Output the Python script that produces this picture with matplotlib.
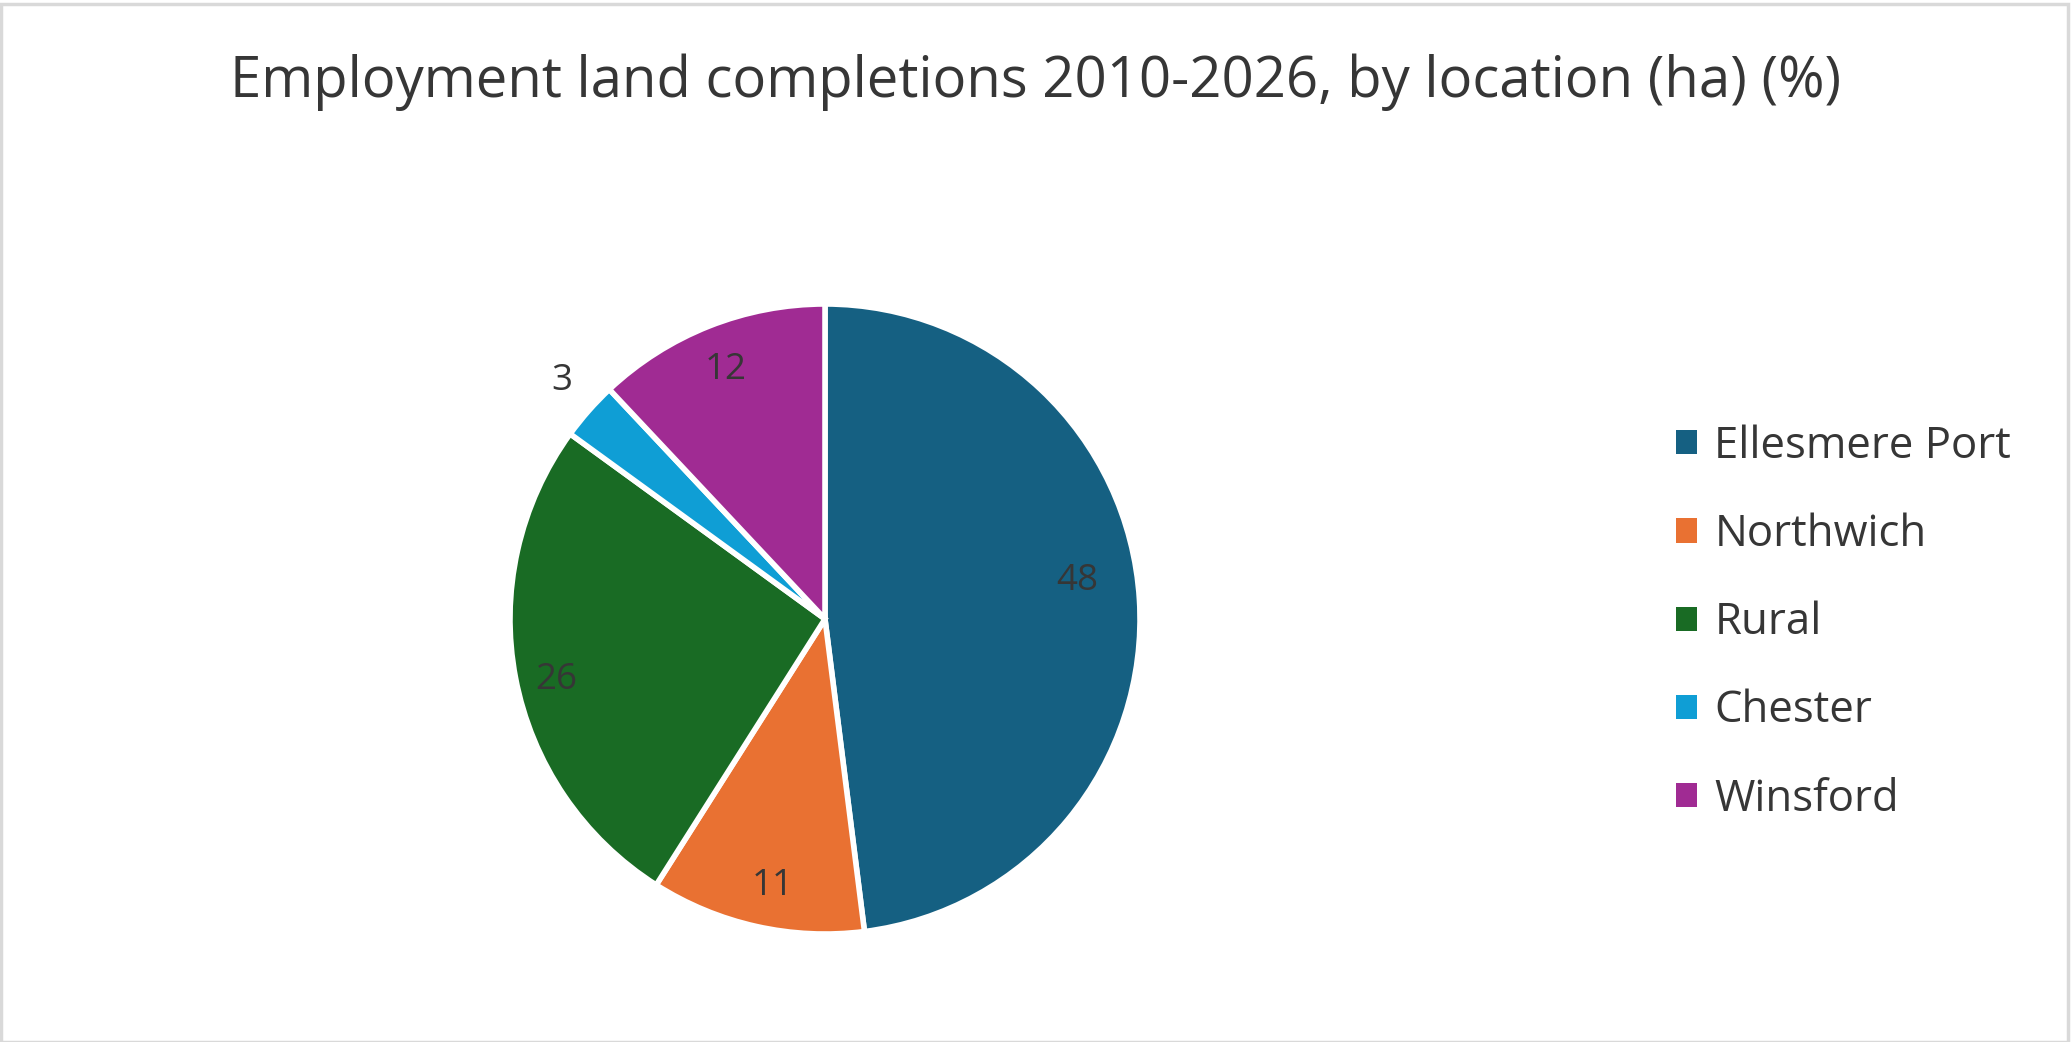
import numpy as np
import matplotlib
matplotlib.use("Agg")
import matplotlib.pyplot as plt
from matplotlib.patches import Patch, Rectangle

# ---- data ----
categories = ["Ellesmere Port", "Northwich", "Rural", "Chester", "Winsford"]
values = [48, 11, 26, 3, 12]
title = "Employment land completions 2010-2026, by location (ha) (%)"

# ---- styles ----
colors = ["#156082", "#E97132", "#196B24", "#0F9ED5", "#A02B93"]
label_radius = [0.81, 0.865, 0.875, 1.125, 0.85]
label_angle_shift = [5.0, 1.5, 2.0, -0.7, 0.2]
text_color = "#363636"
font = "Open Sans"

W, H = 2071, 1042
fig = plt.figure(figsize=(W / 100, H / 100), dpi=100)
fig.patch.set_facecolor("white")

cx, cy, r = 825, 1042 - 619, 315
ax = fig.add_axes([(cx - r) / W, (cy - r) / H, 2 * r / W, 2 * r / H])
wedges, _ = ax.pie(values, colors=colors, startangle=90, counterclock=False,
                   radius=1.0, wedgeprops=dict(edgecolor="white", linewidth=4))
ax.set_xlim(-1, 1)
ax.set_ylim(-1, 1)
ax.set_aspect("equal")
ax.axis("off")

for w, v, lr, da in zip(wedges, values, label_radius, label_angle_shift):
    ang = np.deg2rad((w.theta1 + w.theta2) / 2 + da)
    ax.text(lr * np.cos(ang), lr * np.sin(ang), str(v), ha="center", va="center",
            fontsize=26.5, color=text_color, family=font)

fig.text(0.5, 1 - 82 / H, title, ha="center", va="center", fontsize=40.5,
         color=text_color, family=font)

handles = [Patch(facecolor=c, edgecolor="none") for c in colors]
leg = fig.legend(handles, categories, loc="center left",
                 bbox_to_anchor=(1676 / W, 1 - 623 / H), frameon=False,
                 prop=dict(family=font, size=31.5), labelcolor=text_color,
                 handlelength=0.48, handleheight=0.48, handletextpad=0.4,
                 labelspacing=1.0, borderpad=0, borderaxespad=0)

fig.patches.append(Rectangle((0.5 / W, 0.5 / H), 1 - 4 / W, 1 - 4 / H,
                             transform=fig.transFigure, fill=False,
                             edgecolor="#D9D9D9", linewidth=2.5))

fig.savefig("out.png", dpi=100)
